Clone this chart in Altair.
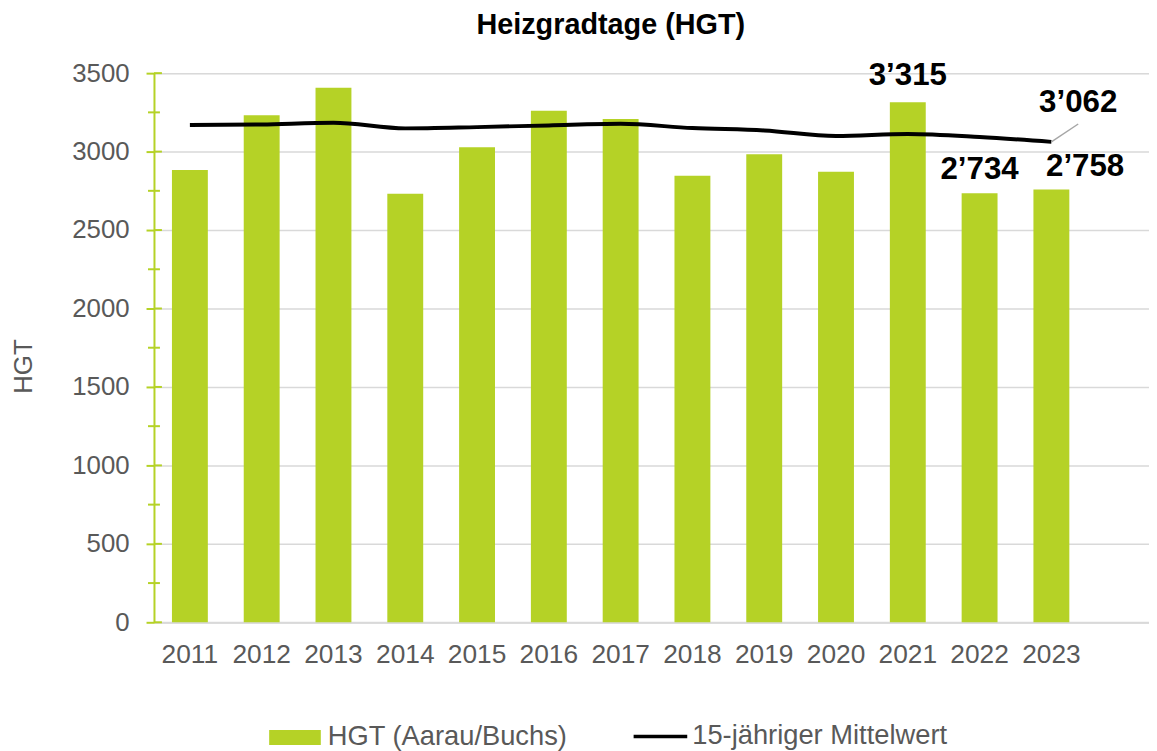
import altair as alt
import pandas as pd

# ---- data ----
years = ["2011", "2012", "2013", "2014", "2015", "2016", "2017",
         "2018", "2019", "2020", "2021", "2022", "2023"]
hgt = [2882, 3232, 3407, 2732, 3028, 3260, 3207, 2846, 2983, 2871, 3315, 2734, 2758]
mittel15 = [3169, 3173, 3184, 3148, 3156, 3167, 3177, 3150, 3135, 3099, 3112, 3093, 3062]
y_ticks = [0, 500, 1000, 1500, 2000, 2500, 3000, 3500]
y_minor = [250, 750, 1250, 1750, 2250, 2750, 3250]

SER_BAR = "HGT (Aarau/Buchs)"
SER_LINE = "15-jähriger Mittelwert"

GREEN = "#B5D226"
GRAY = "#595959"
GRID = "#D9D9D9"
FONT = "Arial, Liberation Sans, sans-serif"

df = pd.DataFrame({"Jahr": years, "HGT": hgt, "Mittel": mittel15})
df_major = pd.DataFrame({"v": y_ticks})
df_minor = pd.DataFrame({"v": y_minor})

xscale = alt.Scale(domain=years, paddingInner=0.5, paddingOuter=0.68, align=0.184)
yscale = alt.Scale(domain=[0, 3500], nice=False, zero=True)

x_enc = alt.X(
    "Jahr:N", scale=xscale, sort=None,
    axis=alt.Axis(title=None, labelAngle=0, labelFontSize=26.5, labelColor=GRAY,
                  labelFont=FONT, ticks=False, tickSize=0, labelPadding=19.5,
                  labelBaseline="top", domainColor=GRID, domainWidth=2, grid=False),
)

y_axis = alt.Axis(
    values=y_ticks, format="d", title="HGT", titleFontSize=26, titleColor=GRAY,
    titleFont=FONT, titleFontWeight="normal", titleAngle=270, titleX=-123, titleY=295,
    titleBaseline="alphabetic", titleAlign="center",
    labelFontSize=26, labelColor=GRAY, labelFont=FONT, labelPadding=17,
    tickSize=8, tickColor=GREEN, tickWidth=2, domainColor=GREEN, domainWidth=2,
    grid=True, gridColor=GRID, gridWidth=1.5,
)

base = alt.Chart(df).transform_calculate(
    lab="replace(format(datum.HGT, ','), ',', '’')",
    labm="replace(format(datum.Mittel, ','), ',', '’')",
    sbar=f'"{SER_BAR}"',
    sline=f'"{SER_LINE}"',
)

bars = base.mark_bar().encode(
    x=x_enc,
    y=alt.Y("HGT:Q", scale=yscale, axis=y_axis),
    fill=alt.Fill(
        "sbar:N", scale=alt.Scale(domain=[SER_BAR], range=[GREEN]),
        legend=alt.Legend(title=None, orient="none", legendX=116, legendY=643,
                          symbolType="M-1,-0.29H1V0.29H-1Z", symbolSize=2704,
                          symbolStrokeWidth=0, labelFontSize=27.5, labelColor=GRAY,
                          labelFont=FONT, labelOffset=7, labelLimit=500, padding=0),
    ),
)

line = base.mark_line(strokeWidth=4, interpolate="monotone").encode(
    x=x_enc,
    y=alt.Y("Mittel:Q", scale=yscale, axis=y_axis),
    stroke=alt.Stroke(
        "sline:N", scale=alt.Scale(domain=[SER_LINE], range=["#000000"]),
        legend=alt.Legend(title=None, orient="none", legendX=481, legendY=639,
                          symbolType="stroke", symbolSize=2916, symbolStrokeWidth=3.5,
                          labelFontSize=27.5, labelColor=GRAY, labelFont=FONT,
                          labelOffset=3, labelLimit=500, padding=0),
    ),
)

lbl_style = dict(baseline="alphabetic", fontSize=31.5, fontWeight="bold", font=FONT,
                 color="#000000", align="center")

lab2021 = base.transform_filter("datum.Jahr == '2021'").mark_text(dy=-17, **lbl_style).encode(
    x=x_enc, y=alt.Y("HGT:Q", scale=yscale, axis=y_axis), text="lab:N")
lab2022 = base.transform_filter("datum.Jahr == '2022'").mark_text(dy=-14, **lbl_style).encode(
    x=x_enc, y=alt.Y("HGT:Q", scale=yscale, axis=y_axis), text="lab:N")
lab2023 = base.transform_filter("datum.Jahr == '2023'").mark_text(dy=-14, dx=34, **lbl_style).encode(
    x=x_enc, y=alt.Y("HGT:Q", scale=yscale, axis=y_axis), text="lab:N")
labmean = base.transform_filter("datum.Jahr == '2023'").mark_text(dy=-30, dx=27, **lbl_style).encode(
    x=x_enc, y=alt.Y("Mittel:Q", scale=yscale, axis=y_axis), text="labm:N")
leader = base.transform_filter("datum.Jahr == '2023'").mark_rule(
    color="#A6A6A6", strokeWidth=1.5, x2Offset=27, y2Offset=-18).encode(
    x=x_enc, x2="Jahr:N",
    y=alt.Y("Mittel:Q", scale=yscale, axis=y_axis), y2="Mittel:Q")

major_in = alt.Chart(df_major).mark_rule(color=GREEN, strokeWidth=2).encode(
    x=alt.value(0), x2=alt.value(8), y=alt.Y("v:Q", scale=yscale, axis=y_axis))
minor = alt.Chart(df_minor).mark_rule(color=GREEN, strokeWidth=2).encode(
    x=alt.value(-6), x2=alt.value(6), y=alt.Y("v:Q", scale=yscale, axis=y_axis))

chart = alt.layer(
    bars, line, leader, lab2021, lab2022, lab2023, labmean, major_in, minor
).resolve_scale(fill="independent", stroke="independent").properties(
    width=1002, height=553,
    title=alt.Title("Heizgradtage (HGT)", fontSize=29, fontWeight="bold", font=FONT,
                    color="#000000", anchor="middle", frame="group", dx=-41,
                    baseline="alphabetic", offset=-3),
    autosize=alt.AutoSizeParams(type="none"),
    padding={"left": 147, "top": 63, "right": 0, "bottom": 127},
).configure_view(stroke=None).configure(background="white")

chart.save("out.html", embed_options={"renderer": "svg", "actions": False})
